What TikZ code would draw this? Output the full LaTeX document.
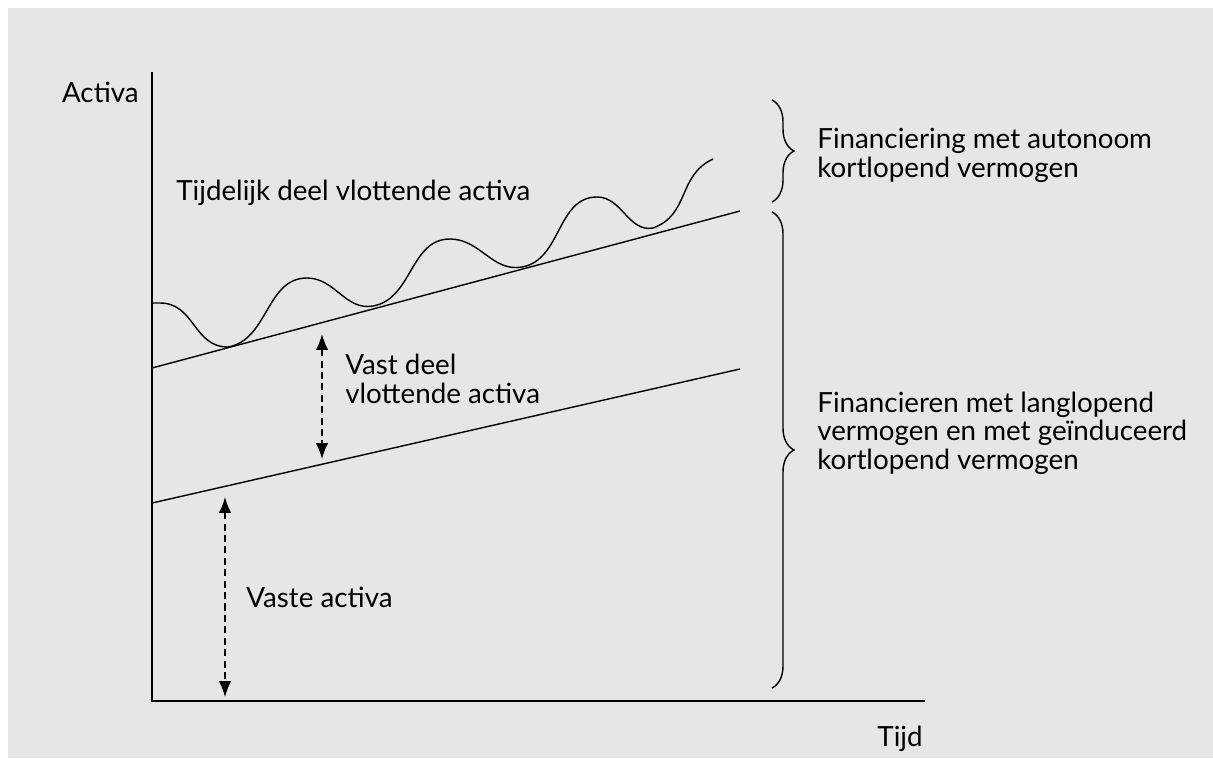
\documentclass[tikz,border=0pt]{standalone}
\usepackage{fontspec}
\setmainfont{Lato}
\usetikzlibrary{arrows.meta,decorations.pathreplacing}
\definecolor{panelgray}{HTML}{E6E6E6}

\begin{document}
\begin{tikzpicture}[x=0.02cm,y=-0.02cm]
% Define common styles
\tikzset{
    axis/.style={line width=1.1pt},
    trend/.style={line width=0.8pt},
    span/.style={{Latex[length=9pt,width=7pt]}-{Latex[length=9pt,width=7pt]}, dash pattern=on 4pt off 2.5pt, line width=0.8pt},
    fbrace/.style={decorate, decoration={brace, amplitude=0.44cm, aspect=0.5}, line width=0.8pt},
    label/.style={font=\fontsize{15.8}{16.2}\selectfont, inner sep=0pt, align=left}
}

% Background panel
\useasboundingbox (0,0) rectangle (1213,758);
\fill[white] (0,0) rectangle (1213,758);
\fill[panelgray] (8,8) rectangle (1213,758);

% Axes
\coordinate (origin) at (152,701);
\coordinate (ytop) at (152,72);
\coordinate (xend) at (925,701);
\draw[axis] (ytop) -- (origin) -- (xend);

\node[label, anchor=base east] (lblActiva) at (139,102) {Activa};
\node[label, anchor=base east] (lblTijd) at (923,746) {Tijd};

% Trend lines
\coordinate (up0) at (152,368);
\coordinate (up1) at (740,211);
\coordinate (lo0) at (152,503);
\coordinate (lo1) at (740,369);
\draw[trend] (up0) -- (up1);
\draw[trend] (lo0) -- (lo1);

% Wave (tijdelijk deel)
\draw[trend] (152,303) -- (160,303) to[out=0,in=180, looseness=1.1] (228,347)
    to[out=10,in=180] (307,278) to[out=0,in=190] (373,306)
    to[out=10,in=180] (450,239) to[out=0,in=190] (522,267)
    to[out=10,in=180] (597,197) to[out=0,in=190] (653,228)
    to[out=20,in=205, looseness=1.1] (713,159);

% Dashed spans
\coordinate (a1top) at (322,334);
\coordinate (a1bot) at (322,459);
\coordinate (a2top) at (225,497);
\coordinate (a2bot) at (225,697);
\draw[span] (a1top) -- (a1bot);
\draw[span] (a2top) -- (a2bot);

\node[label, anchor=base west] (lblTijdelijk) at (176,200) {Tijdelijk deel vlottende activa};
\node[label, anchor=base west] (lblVastDeel) at (345,403) {Vast deel\\vlottende activa};
\node[label, anchor=base west] (lblVaste) at (246,607) {Vaste activa};

% Braces
\draw[fbrace] (772,100) -- (772,202);
\draw[fbrace] (772,212) -- (772,688);

\node[label, anchor=base west] (lblAutonoom) at (817,177) {Financiering met autonoom\\kortlopend vermogen};
\node[label, anchor=base west] (lblLanglopend) at (817,469) {Financieren met langlopend\\vermogen en met geïnduceerd\\kortlopend vermogen};

\end{tikzpicture}
\end{document}
